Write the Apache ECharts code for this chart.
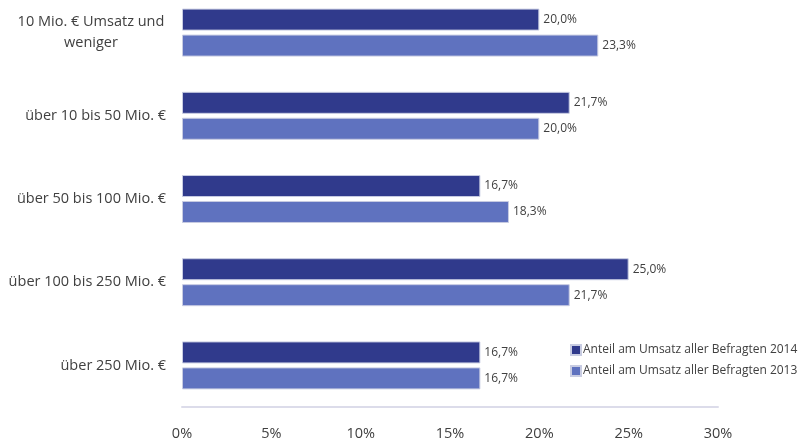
<!DOCTYPE html>
<html>
<head>
<meta charset="utf-8">
<script src="https://cdn.jsdelivr.net/npm/echarts@6/dist/echarts.min.js"></script>
<style>
  html, body { margin: 0; padding: 0; background: #ffffff; overflow: hidden; }
  /* the plot area starts slightly above the visible page */
  #chart { width: 802px; height: 452px; margin-top: -9px; }
</style>
</head>
<body>
<div id="chart"></div>
<script>
// Umsatzklassen (top to bottom)
const categories = [
  '10 Mio. € Umsatz und\nweniger',
  'über 10 bis 50 Mio. €',
  'über 50 bis 100 Mio. €',
  'über 100 bis 250 Mio. €',
  'über 250 Mio. €'
];
const seriesNames = [
  'Anteil am Umsatz aller Befragten 2014',
  'Anteil am Umsatz aller Befragten 2013'
];
// Anteile in Prozent
const values2014 = [20.0, 21.7, 16.7, 25.0, 16.7];
const values2013 = [23.3, 20.0, 18.3, 21.7, 16.7];
const xTicks = [0, 5, 10, 15, 20, 25, 30];

const FONT = '"Open Sans", "Noto Sans", sans-serif';
const TEXT = '#404040';
const LABEL_SIZE = 14.5;

const fmtPct = v => v.toFixed(1).replace('.', ',') + '%';

const chart = echarts.init(document.getElementById('chart'), null, { renderer: 'canvas' });

const barLabel = {
  show: true,
  position: 'right',
  distance: 4,
  color: TEXT,
  fontFamily: FONT,
  fontSize: 12,
  formatter: p => fmtPct(p.value)
};

chart.setOption({
  animation: false,
  textStyle: { fontFamily: FONT },
  grid: { left: 182, right: 84, top: 0, bottom: 36, containLabel: false },
  legend: {
    orient: 'vertical',
    left: 565,
    top: 348,
    itemWidth: 10,
    itemHeight: 10,
    itemGap: 9,
    icon: 'rect',
    textStyle: { color: TEXT, fontSize: 12, fontFamily: FONT, padding: [0, 0, 0, -3] },
    data: seriesNames
  },
  xAxis: {
    type: 'value',
    min: xTicks[0],
    max: xTicks[xTicks.length - 1],
    interval: 5,
    axisLine: { show: true, lineStyle: { color: '#dcdcea', width: 2 } },
    axisTick: { show: false },
    splitLine: { show: false },
    axisLabel: {
      color: TEXT,
      fontSize: LABEL_SIZE,
      fontFamily: FONT,
      margin: 19,
      formatter: v => v + '%'
    }
  },
  yAxis: {
    type: 'category',
    inverse: true,
    data: categories,
    axisLine: { show: false },
    axisTick: { show: false },
    axisLabel: {
      color: TEXT,
      fontSize: LABEL_SIZE,
      fontFamily: FONT,
      margin: 16,
      lineHeight: 21,
      // wrapped labels are centred line by line, single lines stay right-aligned
      formatter: v => v.indexOf('\n') < 0
        ? v
        : v.split('\n').map(s => '{c|' + s + '}').join('\n'),
      rich: {
        c: { width: 150, align: 'center', color: TEXT, fontSize: LABEL_SIZE, fontFamily: FONT, lineHeight: 21 }
      }
    }
  },
  series: [
    {
      name: seriesNames[0],
      type: 'bar',
      data: values2014,
      barWidth: 22,
      barGap: '18%',
      itemStyle: { color: '#303a8c', borderColor: '#c8cce2', borderWidth: 1 },
      label: barLabel
    },
    {
      name: seriesNames[1],
      type: 'bar',
      data: values2013,
      barWidth: 22,
      barGap: '18%',
      itemStyle: { color: '#5f72bf', borderColor: '#c8cce2', borderWidth: 1 },
      label: barLabel
    }
  ]
});
</script>
</body>
</html>
